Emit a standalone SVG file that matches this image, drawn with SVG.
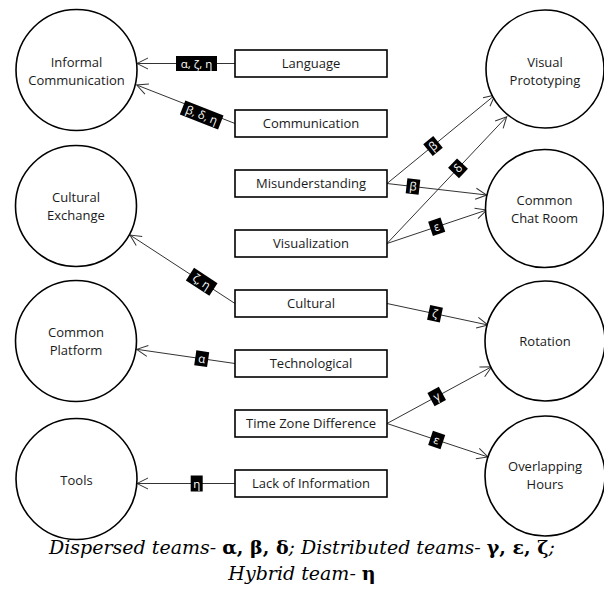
<svg xmlns="http://www.w3.org/2000/svg" width="604" height="594" viewBox="0 0 604 594">
<style>
.c{fill:#fff;stroke:#000;stroke-width:1.6}
.r{fill:#fff;stroke:#000;stroke-width:1.6}
.t{font-family:"Open Sans","Noto Sans",sans-serif;font-size:13px;fill:#1a1a1a;text-anchor:middle}
.e{fill:none;stroke:#333;stroke-width:1}
.lb{fill:#000}
.lt{font-family:"Open Sans","Noto Sans",sans-serif;font-size:11.5px;fill:#fff;text-anchor:middle}
.cap{font-family:"DejaVu Serif","Liberation Serif",serif;font-size:19px;font-style:italic;fill:#000;text-anchor:middle}
.g{font-style:normal;font-weight:bold}
</style>
<defs>
<marker id="a" markerWidth="14" markerHeight="14" refX="12" refY="7" orient="auto" markerUnits="userSpaceOnUse">
<path d="M1,1.5 L12,7 L1,12.5" fill="none" stroke="#333" stroke-width="1"/>
</marker>
</defs>
<g id="connectors">
<line class="e" x1="235" y1="63.5" x2="137" y2="63.5" marker-end="url(#a)"/>
<line class="e" x1="235" y1="123.5" x2="136.7" y2="85" marker-end="url(#a)"/>
<line class="e" x1="387" y1="183.5" x2="495" y2="95" marker-end="url(#a)"/>
<line class="e" x1="387" y1="183.5" x2="486.7" y2="195" marker-end="url(#a)"/>
<line class="e" x1="387" y1="243.5" x2="506.7" y2="116.7" marker-end="url(#a)"/>
<line class="e" x1="387" y1="243.5" x2="486.7" y2="210" marker-end="url(#a)"/>
<line class="e" x1="235" y1="303.5" x2="130" y2="235" marker-end="url(#a)"/>
<line class="e" x1="387" y1="303.5" x2="488" y2="325" marker-end="url(#a)"/>
<line class="e" x1="235" y1="363.5" x2="136.7" y2="349.3" marker-end="url(#a)"/>
<line class="e" x1="387" y1="423.5" x2="491.7" y2="366.7" marker-end="url(#a)"/>
<line class="e" x1="387" y1="423.5" x2="488" y2="457" marker-end="url(#a)"/>
<line class="e" x1="235" y1="483.5" x2="137" y2="483.5" marker-end="url(#a)"/>
<g transform="translate(196.5,63.5)"><rect class="lb" x="-20.5" y="-7.5" width="41" height="15"/><text class="lt" y="4">α, ζ, η</text></g>
<g transform="translate(201.7,115) rotate(21.4)"><rect class="lb" x="-20.5" y="-7.5" width="41" height="15"/><text class="lt" y="4">β, δ, η</text></g>
<g transform="translate(433,146) rotate(-39.3)"><rect class="lb" x="-6.5" y="-7.5" width="13" height="15"/><text class="lt" y="4">β</text></g>
<g transform="translate(413,186.5) rotate(6.6)"><rect class="lb" x="-6.5" y="-7.5" width="13" height="15"/><text class="lt" y="4">β</text></g>
<g transform="translate(458,168.3) rotate(-46.6)"><rect class="lb" x="-6.5" y="-7.5" width="13" height="15"/><text class="lt" y="4">δ</text></g>
<g transform="translate(436.7,226.8) rotate(-18.6)"><rect class="lb" x="-6.5" y="-7.5" width="13" height="15"/><text class="lt" y="4">ε</text></g>
<g transform="translate(201.7,281.8) rotate(33.1)"><rect class="lb" x="-14" y="-7.5" width="28" height="15"/><text class="lt" y="4">ζ, η</text></g>
<g transform="translate(435,313.7) rotate(12)"><rect class="lb" x="-6.5" y="-7.5" width="13" height="15"/><text class="lt" y="4">ζ</text></g>
<g transform="translate(201.7,358.7) rotate(8.2)"><rect class="lb" x="-6.5" y="-7.5" width="13" height="15"/><text class="lt" y="4">α</text></g>
<g transform="translate(436.7,396.5) rotate(-28.5)"><rect class="lb" x="-6.5" y="-7.5" width="13" height="15"/><text class="lt" y="4">γ</text></g>
<g transform="translate(436.7,440) rotate(18.3)"><rect class="lb" x="-6.5" y="-7.5" width="13" height="15"/><text class="lt" y="4">ε</text></g>
<g transform="translate(196.7,483.5)"><rect class="lb" x="-6" y="-8" width="12" height="16"/><text class="lt" y="4">η</text></g>
</g>
<g id="n-informal"><circle class="c" cx="76.5" cy="70" r="60.5"/><text class="t" x="76.5" y="67">Informal</text><text class="t" x="76.5" y="85">Communication</text></g>
<g id="n-cultex"><circle class="c" cx="76" cy="206" r="60.5"/><text class="t" x="76" y="202">Cultural</text><text class="t" x="76" y="220">Exchange</text></g>
<g id="n-platform"><circle class="c" cx="76" cy="341" r="60.5"/><text class="t" x="76" y="337">Common</text><text class="t" x="76" y="355">Platform</text></g>
<g id="n-tools"><circle class="c" cx="76.5" cy="479" r="60.5"/><text class="t" x="76.5" y="484.5">Tools</text></g>
<g id="n-visproto"><circle class="c" cx="545" cy="69" r="59"/><text class="t" x="545" y="66.5">Visual</text><text class="t" x="545" y="84.5">Prototyping</text></g>
<g id="n-chat"><circle class="c" cx="544.5" cy="208.5" r="59"/><text class="t" x="544.5" y="205">Common</text><text class="t" x="544.5" y="223">Chat Room</text></g>
<g id="n-rotation"><circle class="c" cx="545" cy="341" r="60"/><text class="t" x="545" y="346">Rotation</text></g>
<g id="n-overlap"><circle class="c" cx="545" cy="476" r="60"/><text class="t" x="545" y="471">Overlapping</text><text class="t" x="545" y="489">Hours</text></g>
<g id="n-language"><rect class="r" x="235" y="50" width="152" height="27"/><text class="t" x="311" y="68">Language</text></g>
<g id="n-communication"><rect class="r" x="235" y="110" width="152" height="27"/><text class="t" x="311" y="128">Communication</text></g>
<g id="n-misund"><rect class="r" x="235" y="170" width="152" height="27"/><text class="t" x="311" y="188">Misunderstanding</text></g>
<g id="n-visualization"><rect class="r" x="235" y="230" width="152" height="27"/><text class="t" x="311" y="248">Visualization</text></g>
<g id="n-cultural"><rect class="r" x="235" y="290" width="152" height="27"/><text class="t" x="311" y="308">Cultural</text></g>
<g id="n-tech"><rect class="r" x="235" y="350" width="152" height="27"/><text class="t" x="311" y="368">Technological</text></g>
<g id="n-timezone"><rect class="r" x="235" y="410" width="152" height="27"/><text class="t" x="311" y="428">Time Zone Difference</text></g>
<g id="n-lack"><rect class="r" x="235" y="470" width="152" height="27"/><text class="t" x="311" y="488">Lack of Information</text></g>
<g id="caption">
<text class="cap" x="302" y="554">Dispersed teams- <tspan class="g">α, β, δ</tspan>; Distributed teams- <tspan class="g">γ, ε, ζ</tspan>;</text>
<text class="cap" x="302" y="580">Hybrid team- <tspan class="g">η</tspan></text>
</g>
</svg>
